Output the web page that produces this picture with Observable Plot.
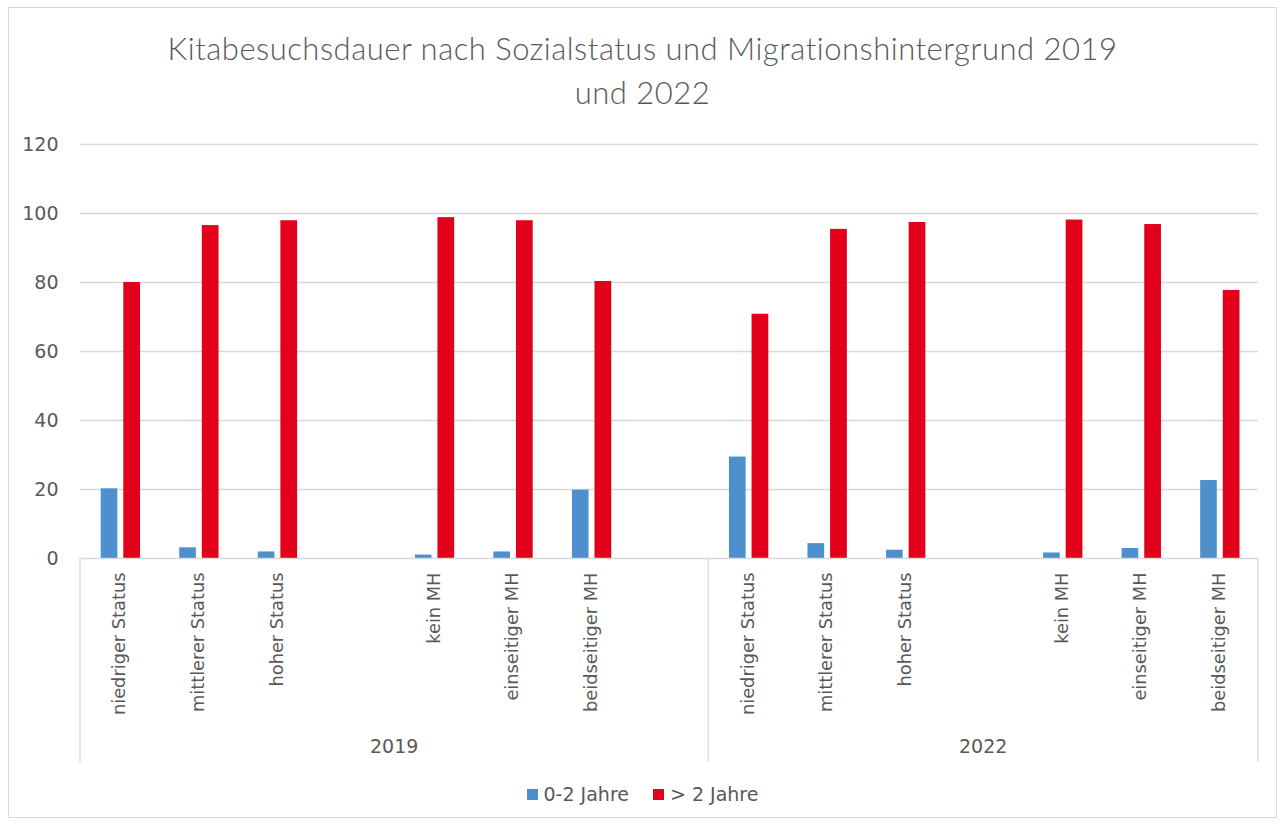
<!DOCTYPE html>
<html>
<head>
<meta charset="utf-8">
<script src="https://cdn.jsdelivr.net/npm/d3@7"></script>
<script src="https://cdn.jsdelivr.net/npm/@observablehq/plot@0.6"></script>
<style>
  html, body { margin: 0; padding: 0; background: #fff; }
  #page { position: relative; width: 1285px; height: 825px; overflow: hidden; font-family: "DejaVu Sans", sans-serif; color: #595959; }
  #frame { position: absolute; left: 8px; top: 7px; width: 1269px; height: 811px; border: 1px solid #d9d9d9; box-sizing: border-box; }
  #title { position: absolute; left: 0; top: 26px; width: 1285px; text-align: center; font-family: "Lato", sans-serif; font-weight: 300; font-size: 31px; letter-spacing: 0.5px; line-height: 44px; color: #595959; }
  #chart { position: absolute; left: 0; top: 130px; }
  #legend { position: absolute; left: 0; top: 783px; width: 1285px; display: flex; justify-content: center; gap: 24px; font-size: 19px; color: #595959; }
  .item { display: flex; align-items: center; gap: 6px; }
  .sw { width: 11px; height: 11px; display: inline-block; }
</style>
</head>
<body>
<div id="page">
  <div id="frame"></div>
  <div id="title">Kitabesuchsdauer nach Sozialstatus und Migrationshintergrund 2019<br>und 2022</div>
  <div id="chart"></div>
  <div id="legend"></div>
</div>
<script>
// ---- data ----
const years = ["2019", "2022"];
const categories2019 = ["niedriger Status", "mittlerer Status", "hoher Status", "", "kein MH", "einseitiger MH", "beidseitiger MH", ""];
const categories2022 = ["niedriger Status", "mittlerer Status", "hoher Status", "", "kein MH", "einseitiger MH", "beidseitiger MH"];
const short2019 = [20.2, 3.1, 1.9, null, 1.0, 1.9, 19.8, null];   // 0-2 Jahre
const long2019  = [80.0, 96.5, 97.9, null, 98.8, 97.9, 80.3, null]; // > 2 Jahre
const short2022 = [29.4, 4.3, 2.4, null, 1.6, 2.9, 22.6];
const long2022  = [70.8, 95.4, 97.4, null, 98.1, 96.8, 77.7];
const seriesNames = ["0-2 Jahre", "> 2 Jahre"];
const seriesColors = ["#4e8fcd", "#e2001a"];
const yTicks = [0, 20, 40, 60, 80, 100, 120];

// ---- build table ----
const cats = {"2019": categories2019, "2022": categories2022};
const shortVals = {"2019": short2019, "2022": short2022};
const longVals = {"2019": long2019, "2022": long2022};
const keys = [];
const labelOf = new Map();
const rows = [];
for (const yr of years) {
  cats[yr].forEach((c, i) => {
    const k = yr + "|" + i;
    keys.push(k);
    labelOf.set(k, c);
    if (shortVals[yr][i] != null) rows.push({key: k, year: yr, series: seriesNames[0], value: shortVals[yr][i]});
    if (longVals[yr][i] != null) rows.push({key: k, year: yr, series: seriesNames[1], value: longVals[yr][i]});
  });
}
const yearKeys = years.map(yr => keys.filter(k => k.startsWith(yr + "|")));

// custom mark: group separators and year labels under the category axis
function yearGroups(index, scales, values, dimensions) {
  const x = scales.x;
  const step = x(keys[1]) - x(keys[0]);
  const y0 = dimensions.height - dimensions.marginBottom;
  const g = d3.create("svg:g");
  const edges = [];
  yearKeys.forEach((ks, i) => {
    const a = x(ks[0]);
    const b = x(ks[ks.length - 1]) + step;
    if (i === 0) edges.push(a);
    edges.push(b);
    g.append("text")
      .attr("x", (a + b) / 2)
      .attr("y", y0 + 189)
      .attr("text-anchor", "middle")
      .attr("dominant-baseline", "middle")
      .attr("fill", "#595959")
      .attr("font-size", 19)
      .text(years[i]);
  });
  edges.forEach(e => {
    g.append("line")
      .attr("x1", e).attr("x2", e)
      .attr("y1", y0).attr("y2", y0 + 204)
      .attr("stroke", "#d9d9d9").attr("stroke-width", 1.3);
  });
  return g.node();
}

const chart = Plot.plot({
  width: 1285,
  height: 640,
  marginLeft: 80,
  marginRight: 27,
  marginTop: 14,
  marginBottom: 212,
  style: {fontFamily: "DejaVu Sans, sans-serif", fontSize: "17px", color: "#595959", background: "transparent"},
  x: {type: "band", domain: keys, padding: 0, round: false, label: null},
  y: {domain: [0, 120], label: null},
  color: {domain: seriesNames, range: seriesColors},
  marks: [
    Plot.ruleY(yTicks.filter(d => d > 0), {stroke: "#d9d9d9", strokeWidth: 1.3}),
    Plot.barY(rows.filter(d => d.series === seriesNames[0]), {x: "key", y: "value", fill: "series", insetLeft: 20.7, insetRight: 41.2}),
    Plot.barY(rows.filter(d => d.series === seriesNames[1]), {x: "key", y: "value", fill: "series", insetLeft: 43.3, insetRight: 18.5}),
    Plot.ruleY([0], {stroke: "#d9d9d9", strokeWidth: 1.3}),
    Plot.axisY({ticks: yTicks, tickSize: 0, tickPadding: 22, tickFormat: d => String(d), fontSize: 19, fill: "#595959"}),
    Plot.axisX({tickRotate: -90, tickSize: 0, tickPadding: 14, tickFormat: k => labelOf.get(k), fontSize: 17.8, fill: "#595959"}),
    yearGroups
  ]
});
document.getElementById("chart").appendChild(chart);

// legend
const legend = document.getElementById("legend");
seriesNames.forEach((n, i) => {
  const it = document.createElement("div");
  it.className = "item";
  const sw = document.createElement("span");
  sw.className = "sw";
  sw.style.background = seriesColors[i];
  const t = document.createElement("span");
  t.textContent = n;
  it.appendChild(sw); it.appendChild(t);
  legend.appendChild(it);
});
</script>
</body>
</html>
